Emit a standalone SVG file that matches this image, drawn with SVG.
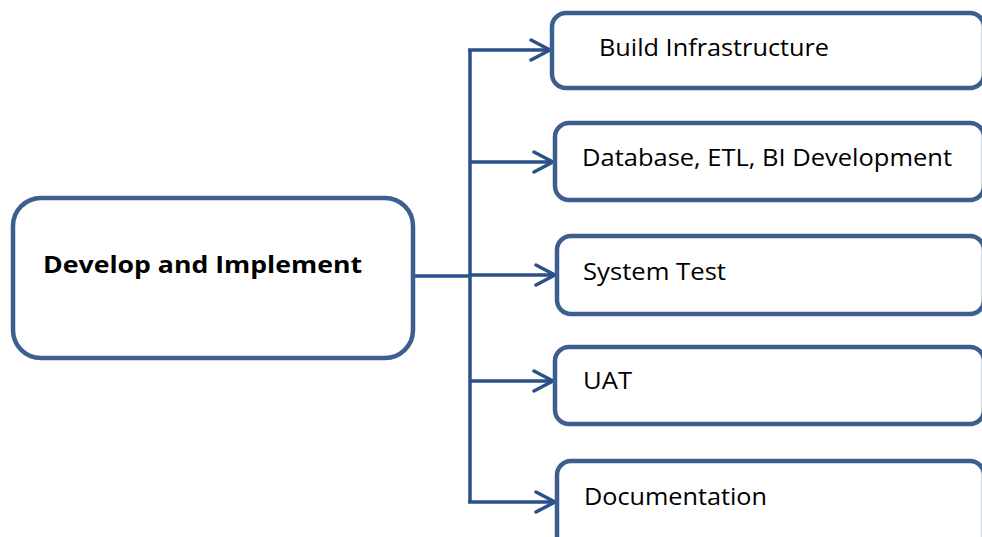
<svg xmlns="http://www.w3.org/2000/svg" width="982" height="537" viewBox="0 0 982 537">
<style>
.box{fill:#fff;stroke:#3d5f8f;stroke-width:4.5}
.ln{fill:none;stroke:#2a5189;stroke-width:3.5}
.t{font-family:"Open Sans","Liberation Sans",sans-serif;font-size:23px;fill:#000}
.tb{font-family:"Open Sans","Liberation Sans",sans-serif;font-size:24px;font-weight:bold;fill:#000}
</style>
<defs>
<marker id="arr" markerUnits="userSpaceOnUse" viewBox="0 0 24 24" refX="21" refY="12" markerWidth="24" markerHeight="24" orient="auto">
<path d="M2,2 L21,12 L2,22" fill="none" stroke="#2a5189" stroke-width="3.5" stroke-linecap="round" stroke-linejoin="round"/>
</marker>
</defs>
<rect width="982" height="537" fill="#fff"/>
<g id="connectors">
<line class="ln" x1="415" y1="276" x2="470" y2="276"/>
<line class="ln" x1="470" y1="49" x2="470" y2="503"/>
<line class="ln" x1="468" y1="50" x2="550" y2="50" marker-end="url(#arr)"/>
<line class="ln" x1="470" y1="162" x2="553" y2="162" marker-end="url(#arr)"/>
<line class="ln" x1="470" y1="275" x2="555" y2="275" marker-end="url(#arr)"/>
<line class="ln" x1="470" y1="381" x2="553" y2="381" marker-end="url(#arr)"/>
<line class="ln" x1="468" y1="502" x2="555" y2="502" marker-end="url(#arr)"/>
</g>
<g id="develop">
<rect class="box" x="13" y="198" width="400" height="160" rx="28"/>
<text class="tb" x="43" y="273" textLength="319" lengthAdjust="spacingAndGlyphs">Develop and Implement</text>
</g>
<g id="build">
<rect class="box" x="552" y="13" width="432" height="75" rx="14"/>
<text class="t" x="599" y="56" textLength="230" lengthAdjust="spacingAndGlyphs">Build Infrastructure</text>
</g>
<g id="database">
<rect class="box" x="555" y="123" width="429" height="77" rx="14"/>
<text class="t" x="582" y="166" textLength="370" lengthAdjust="spacingAndGlyphs">Database, ETL, BI Development</text>
</g>
<g id="systemtest">
<rect class="box" x="557" y="236" width="427" height="78" rx="14"/>
<text class="t" x="583" y="280" textLength="143" lengthAdjust="spacingAndGlyphs">System Test</text>
</g>
<g id="uat">
<rect class="box" x="555" y="347" width="429" height="77" rx="14"/>
<text class="t" x="583" y="389" textLength="49" lengthAdjust="spacingAndGlyphs">UAT</text>
</g>
<g id="documentation">
<rect class="box" x="557" y="461" width="427" height="90" rx="14"/>
<text class="t" x="584" y="505" textLength="183" lengthAdjust="spacingAndGlyphs">Documentation</text>
</g>
</svg>
